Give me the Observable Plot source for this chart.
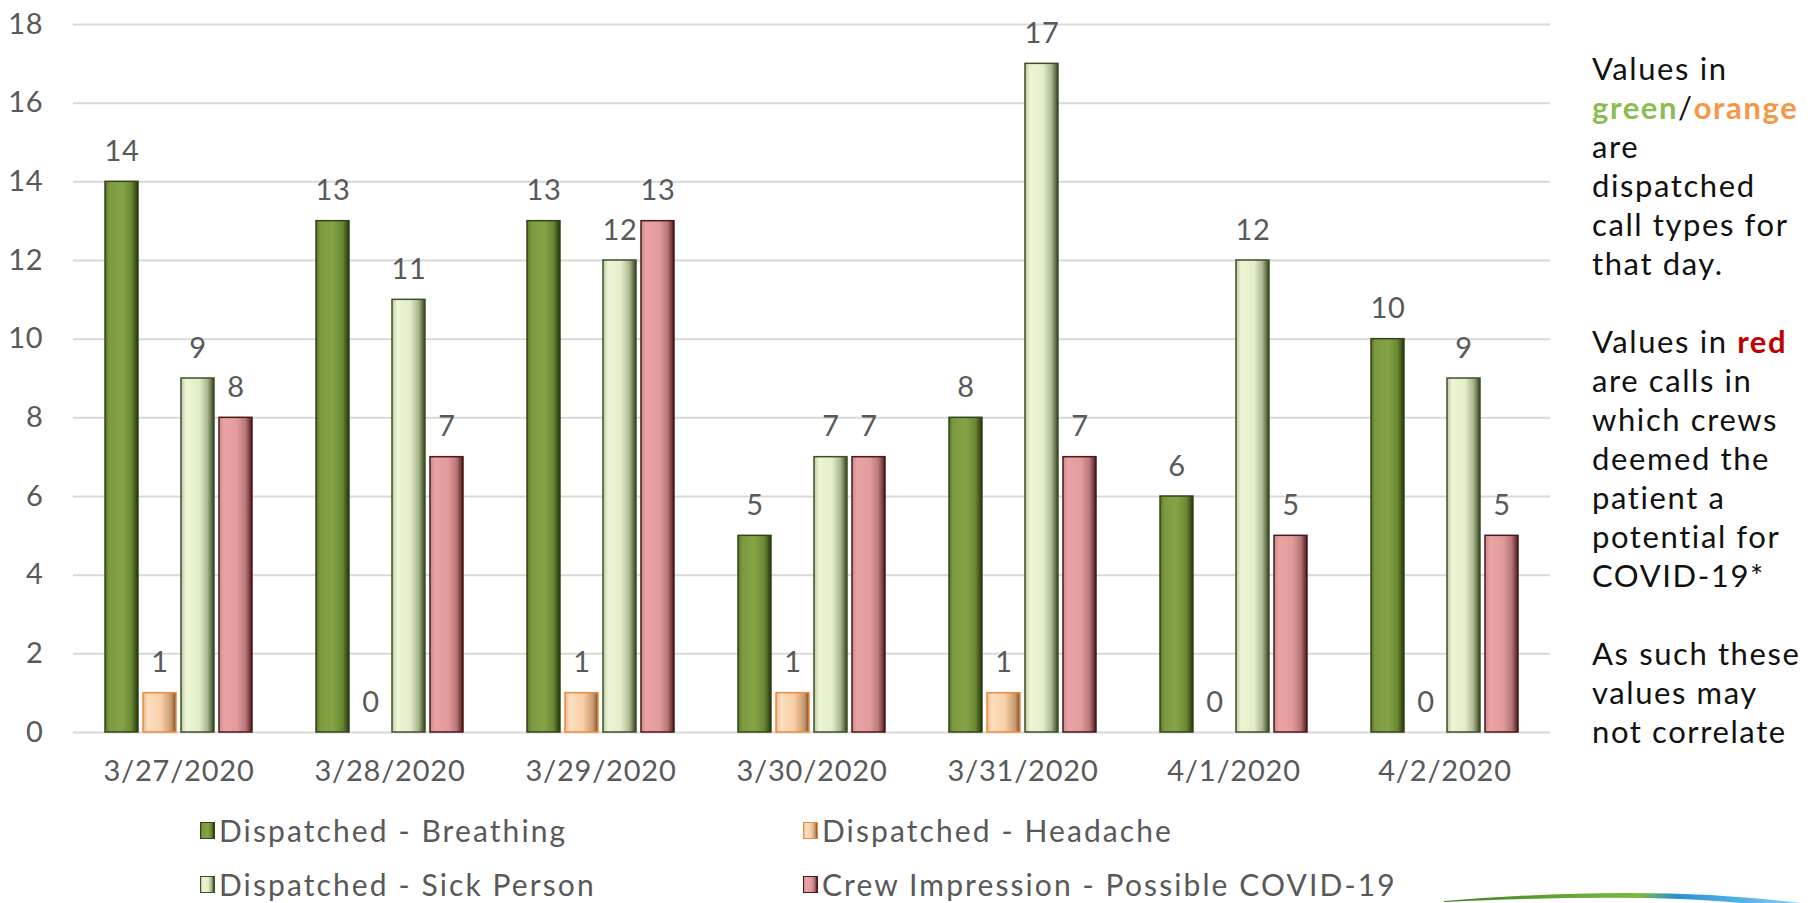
<!DOCTYPE html>
<html>
<head>
<meta charset="utf-8">
<script src="https://cdn.jsdelivr.net/npm/d3@7"></script>
<script src="https://cdn.jsdelivr.net/npm/@observablehq/plot@0.6"></script>
<style>
  html, body { margin: 0; padding: 0; background: #fff; width: 1812px; height: 903px; overflow: hidden; }
  body { position: relative; font-family: "Lato", "Open Sans", sans-serif; }
  #chart { position: absolute; left: 0; top: 0; }
  #note { position: absolute; left: 1592px; top: 49px; font-size: 31px; letter-spacing: 1.6px; line-height: 39px; color: #111; }
  #note .g { color: #8cbd53; font-weight: bold; }
  #note .o { color: #f79646; font-weight: bold; }
  #note .r { color: #c00000; font-weight: bold; }
  .leg { position: absolute; font-size: 30px; letter-spacing: 2.1px; color: #595959; display: flex; align-items: center; white-space: nowrap; }
  .sw { width: 15px; height: 17px; margin-right: 4px; box-sizing: border-box; border: 1.5px solid; }
  #logo { position: absolute; left: 1440px; top: 885px; }
</style>
</head>
<body>
<div id="chart"></div>
<div id="note"></div>
<div id="legend"></div>
<svg id="logo" width="372" height="18">
  <defs>
    <linearGradient id="lg" x1="0" x2="1">
      <stop offset="0" stop-color="#3f7f2a"/>
      <stop offset="0.55" stop-color="#7dbb3c"/>
      <stop offset="0.65" stop-color="#2a8fd6"/>
      <stop offset="1" stop-color="#7fd0f5"/>
    </linearGradient>
  </defs>
  <path d="M 4 16 Q 150 4 270 10 Q 330 14 360 18 L 300 18 Q 200 8 4 17 Z" fill="url(#lg)"/>
</svg>
<script>
const dates = ["3/27/2020","3/28/2020","3/29/2020","3/30/2020","3/31/2020","4/1/2020","4/2/2020"];
const seriesNames = ["Dispatched - Breathing","Dispatched - Headache","Dispatched - Sick Person","Crew Impression - Possible COVID-19"];
const breathing  = [14, 13, 13, 5, 8, 6, 10];
const headache   = [1, 0, 1, 1, 1, 0, 0];
const sickPerson = [9, 11, 12, 7, 17, 12, 9];
const covid      = [8, 7, 13, 7, 7, 5, 5];
const yTicks = [0, 2, 4, 6, 8, 10, 12, 14, 16, 18];

const seriesValues = [breathing, headache, sickPerson, covid];
const styles = [
  {id: "gB", stroke: "#33451a", stops: [[0,"#56722a"],[0.12,"#7b9a3f"],[0.5,"#86a446"],[0.8,"#6a8832"],[0.93,"#3f5419"],[1,"#1f2b0b"]]},
  {id: "gH", stroke: "#f08a3c", stops: [[0,"#e9b58a"],[0.15,"#fde0c2"],[0.55,"#f8cea6"],[0.85,"#c99a70"],[1,"#7a5030"]]},
  {id: "gS", stroke: "#3f4f27", stops: [[0,"#b9c89e"],[0.15,"#ecf5d6"],[0.55,"#e3eec8"],[0.8,"#a9b78f"],[0.93,"#5f6e45"],[1,"#2c3818"]]},
  {id: "gC", stroke: "#4a1a1a", stops: [[0,"#c98a8b"],[0.15,"#eaa3a5"],[0.55,"#e39a9c"],[0.8,"#b87879"],[0.93,"#7a3d3e"],[1,"#3a1212"]]}
];

const data = [];
dates.forEach((d, i) => seriesNames.forEach((s, k) => data.push({date: d, series: s, value: seriesValues[k][i]})));

const barMarks = seriesNames.map((s, k) => Plot.barY(data.filter(r => r.series === s), {
  fx: "date", x: "series", y: "value",
  fill: `url(#${styles[k].id})`, stroke: styles[k].stroke, strokeWidth: 1.5,
  filter: r => r.value > 0
}));

const chart = Plot.plot({
  width: 1560,
  height: 800,
  marginLeft: 73,
  marginRight: 10,
  marginTop: 24,
  marginBottom: 68,
  style: {fontFamily: "Lato, 'Open Sans', sans-serif", background: "transparent", letterSpacing: "0.8px"},
  fx: {domain: dates, padding: 0, label: null},
  x: {domain: seriesNames, paddingInner: 0.14, paddingOuter: 0.82, axis: null},
  y: {domain: [0, 18], label: null},
  marks: [
    Plot.gridY(yTicks, {stroke: "#d9d9d9", strokeOpacity: 1, strokeWidth: 2}),
    Plot.axisY(yTicks, {tickSize: 0, tickPadding: 30, fontSize: 29, fill: "#595959", label: null}),
    Plot.axisFx({anchor: "bottom", tickSize: 0, tickPadding: 28, fontSize: 29, fill: "#595959", label: null}),
    ...barMarks,
    Plot.text(data, {fx: "date", x: "series", y: "value", text: d => String(d.value), dy: -30, fontSize: 29, fill: "#595959"})
  ]
});

// gradient defs
const svgNS = "http://www.w3.org/2000/svg";
const defs = document.createElementNS(svgNS, "defs");
styles.forEach(st => {
  const lg = document.createElementNS(svgNS, "linearGradient");
  lg.setAttribute("id", st.id);
  lg.setAttribute("x1", "0"); lg.setAttribute("x2", "1"); lg.setAttribute("y1", "0"); lg.setAttribute("y2", "0");
  st.stops.forEach(([o, c]) => {
    const stop = document.createElementNS(svgNS, "stop");
    stop.setAttribute("offset", o); stop.setAttribute("stop-color", c);
    lg.appendChild(stop);
  });
  defs.appendChild(lg);
});
chart.insertBefore(defs, chart.firstChild);
document.getElementById("chart").appendChild(chart);

// note text
const noteLines = [
  "Values in",
  '<span class="g">green</span>/<span class="o">orange</span>',
  "are",
  "dispatched",
  "call types for",
  "that day.",
  "&nbsp;",
  'Values in <span class="r">red</span>',
  "are calls in",
  "which crews",
  "deemed the",
  "patient a",
  "potential for",
  "COVID-19*",
  "&nbsp;",
  "As such these",
  "values may",
  "not correlate"
];
document.getElementById("note").innerHTML = noteLines.map(l => `<div>${l}</div>`).join("");

// legend
const legPos = [[200, 832], [803, 832], [200, 886], [803, 886]];
const leg = document.getElementById("legend");
[0, 1, 2, 3].forEach(k => {
  const el = document.createElement("div");
  el.className = "leg";
  el.style.left = legPos[k][0] + "px";
  el.style.top = (legPos[k][1] - 20) + "px";
  const sw = document.createElement("div");
  sw.className = "sw";
  sw.style.borderColor = styles[k].stroke;
  sw.style.background = `linear-gradient(to right, ${styles[k].stops.map(([o, c]) => c + " " + (o * 100) + "%").join(",")})`;
  el.appendChild(sw);
  const t = document.createElement("span");
  t.textContent = seriesNames[k];
  el.appendChild(t);
  leg.appendChild(el);
});
</script>
</body>
</html>
